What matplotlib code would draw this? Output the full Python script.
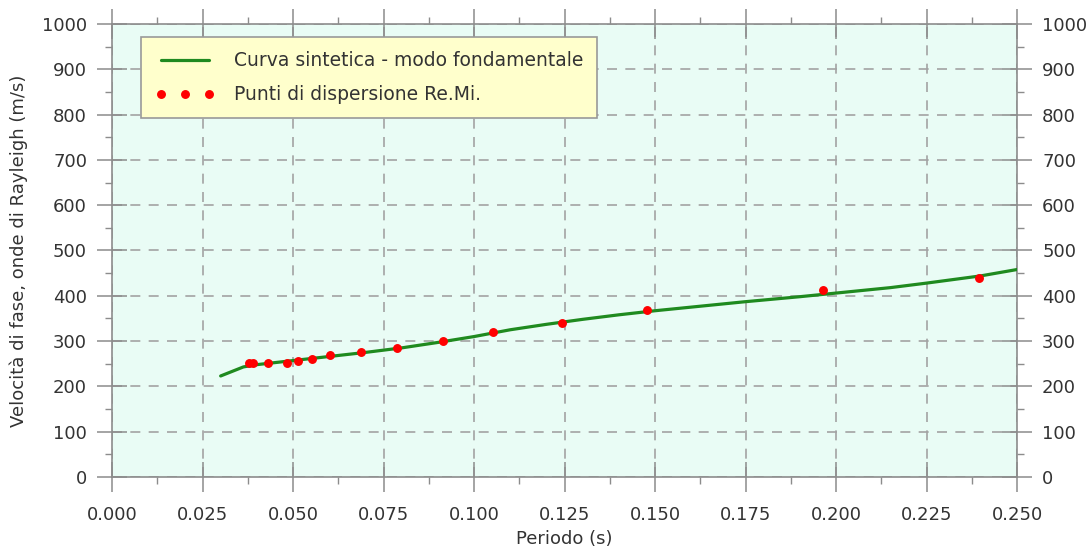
import matplotlib
matplotlib.use('Agg')
import matplotlib.pyplot as plt
from matplotlib.ticker import MultipleLocator, FormatStrFormatter

plt.rcParams['font.family'] = ['DejaVu Sans']

# ── data ──
curve_t = [0.030, 0.0363, 0.040, 0.050, 0.060, 0.070, 0.080, 0.090, 0.100,
           0.110, 0.120, 0.130, 0.140, 0.150, 0.160, 0.175, 0.190, 0.200,
           0.215, 0.225, 0.240, 0.250]
curve_v = [223, 243, 248, 257, 266, 275, 285, 297, 310,
           325, 337, 348, 358, 367, 375, 387, 398, 406,
           418, 428, 444, 458]

pts_t = [0.0377, 0.0390, 0.0432, 0.0483, 0.0515, 0.0552, 0.0602, 0.0688,
         0.0786, 0.0913, 0.1053, 0.1242, 0.1477, 0.1963, 0.2395]
pts_v = [251, 251, 251, 251, 256, 260, 269, 276,
         284, 300, 321, 339, 369, 412, 440]

xticks = [0.000, 0.025, 0.050, 0.075, 0.100, 0.125, 0.150, 0.175, 0.200, 0.225, 0.250]
yticks = [0, 100, 200, 300, 400, 500, 600, 700, 800, 900, 1000]

TXT = '#333333'
AXC = '#8c8c8c'
FS = 13

fig = plt.figure(figsize=(10.9, 5.48), dpi=100)
ax = fig.add_axes([0.1028, 0.1296, 0.8303, 0.8266])
ax.set_facecolor('#e9fcf5')

ax.plot(curve_t, curve_v, color='#1f8a1f', lw=2.3, label='Curva sintetica - modo fondamentale',
        zorder=3, solid_capstyle='round', solid_joinstyle='round')
ax.plot(pts_t, pts_v, ls='none', marker='o', ms=5.4, color='#ff0000', mec='#ff0000',
        label='Punti di dispersione Re.Mi.', zorder=4)

ax.set_xlim(0, 0.25)
ax.set_ylim(0, 1000)
ax.set_xticks(xticks)
ax.set_yticks(yticks)
ax.xaxis.set_major_formatter(FormatStrFormatter('%.3f'))
ax.xaxis.set_minor_locator(MultipleLocator(0.0125))
ax.yaxis.set_minor_locator(MultipleLocator(50))

ax.grid(True, which='major', color='#a3a3a3', ls=(0, (6, 5)), lw=1.2, zorder=1)

ax.tick_params(which='major', direction='inout', length=22, width=1.1, color=AXC,
               labelsize=FS, labelcolor=TXT, top=True, right=True, labelright=True)
ax.tick_params(axis='x', which='major', pad=10)
ax.tick_params(axis='y', which='major', pad=7)
ax.tick_params(which='minor', direction='out', length=5, width=1.0, color=AXC,
               top=True, right=True)
for s in ax.spines.values():
    s.set_color(AXC)
    s.set_linewidth(1.2)

ax.set_xlabel('Periodo (s)', fontsize=FS, color=TXT, labelpad=4)
ax.set_ylabel('Velocità di fase, onde di Rayleigh (m/s)', fontsize=FS, color=TXT, labelpad=10)

leg = ax.legend(loc='upper left', bbox_to_anchor=(0.032, 0.971), borderaxespad=0,
                fontsize=13.5, facecolor='#ffffcc', edgecolor='#999999', framealpha=1,
                fancybox=False, numpoints=3, handlelength=3.2, borderpad=0.75,
                labelspacing=0.8, handletextpad=1.0)
for t in leg.get_texts():
    t.set_color(TXT)
leg.get_frame().set_linewidth(1.2)

fig.savefig('out.png', dpi=100)
